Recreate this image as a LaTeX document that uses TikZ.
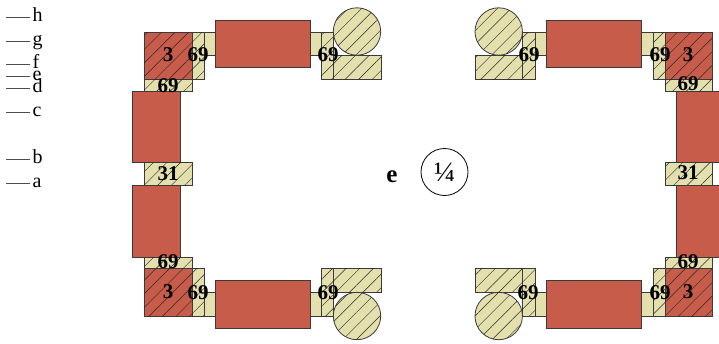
\documentclass[tikz,border=0pt]{standalone}
\usepackage{fontspec}
\setmainfont{Liberation Serif}
\usetikzlibrary{patterns.meta}
\definecolor{brick}{HTML}{C85C4B}
\definecolor{khaki}{HTML}{E3E0AE}
\definecolor{edge}{HTML}{3A3A3A}
\tikzset{
  x=1pt,y=-1pt,
  redbox/.style={draw=edge,line width=0.8pt,fill=brick},
  plainbox/.style={draw=edge,line width=0.8pt,fill=khaki},
  hatch/.style={postaction={pattern={Lines[angle=45,distance=9.6pt,line width=0.45pt]},pattern color=black!85}},
  hatchbox/.style={plainbox,hatch},
  hatchred/.style={redbox,hatch},
  num/.style={font=\bfseries\fontsize{21}{21}\selectfont,inner sep=0pt},
  keytext/.style={font=\fontsize{20}{20}\selectfont,inner sep=0pt,anchor=base west},
  keyline/.style={draw=black!70,line width=0.7pt},
}
\begin{document}
\begin{tikzpicture}
\useasboundingbox (0,0) rectangle (719,343);
% key
\foreach \n/\y in {h/17,g/41,f/64,e/76,d/88,c/112,b/159,a/183}{
  \coordinate (k\n) at (6,\y);
  \node[keytext] (t\n) at (32.5,\y+4) {\n};
  \draw[keyline] (k\n) -- (30,\y);
}
% left side
\draw[hatchred] (144,32) rectangle (192,79);
\draw[hatchbox] (192,32) rectangle (204,79);
\draw[plainbox] (204,32) rectangle (215,55);
\draw[redbox] (215,20) rectangle (310,67);
\draw[plainbox] (310,32) rectangle (321,55);
\draw[hatchbox] (321,32) rectangle (333,79);
\draw[hatchbox] (333,55) rectangle (381,79);
\draw[hatchbox] (357,31.5) circle (23.7);
\draw[hatchbox] (144,79) rectangle (192,91);
\draw[redbox] (132,91) rectangle (180,162);
\draw[hatchbox] (144,162) rectangle (192,185);
\draw[redbox] (132,185) rectangle (180,257);
\draw[hatchbox] (144,257) rectangle (192,268);
\draw[hatchred] (144,268) rectangle (192,316);
\draw[hatchbox] (192,268) rectangle (204,316);
\draw[plainbox] (204,292) rectangle (215,316);
\draw[redbox] (215,280) rectangle (310,328);
\draw[plainbox] (310,292) rectangle (321,316);
\draw[hatchbox] (321,268) rectangle (333,316);
\draw[hatchbox] (333,268) rectangle (381,292);
\draw[hatchbox] (357,316) circle (23.7);
% right side
\draw[hatchred] (665,32) rectangle (712,79);
\draw[hatchbox] (653,32) rectangle (665,79);
\draw[plainbox] (641,32) rectangle (653,55);
\draw[redbox] (546,20) rectangle (641,67);
\draw[plainbox] (535,32) rectangle (546,55);
\draw[hatchbox] (522,32) rectangle (535,79);
\draw[hatchbox] (475,55) rectangle (522,79);
\draw[hatchbox] (498.7,31.5) circle (23.7);
\draw[hatchbox] (665,79) rectangle (712,91);
\draw[redbox] (676,91) rectangle (724,162);
\draw[hatchbox] (665,162) rectangle (712,185);
\draw[redbox] (676,185) rectangle (724,257);
\draw[hatchbox] (665,257) rectangle (712,268);
\draw[hatchred] (665,268) rectangle (712,316);
\draw[hatchbox] (653,268) rectangle (665,316);
\draw[plainbox] (641,292) rectangle (653,316);
\draw[redbox] (546,280) rectangle (641,328);
\draw[plainbox] (535,292) rectangle (546,316);
\draw[hatchbox] (522,268) rectangle (535,316);
\draw[hatchbox] (475,268) rectangle (522,292);
\draw[hatchbox] (498.7,316) circle (23.7);
% numbers
\node[num] (n1) at (168,55) {3};
\node[num] (n2) at (198,55) {69};
\node[num] (n3) at (328,55) {69};
\node[num] (n4) at (168,86) {69};
\node[num] (n5) at (168,174) {31};
\node[num] (n6) at (168,262) {69};
\node[num] (n7) at (168,292) {3};
\node[num] (n8) at (198,293) {69};
\node[num] (n9) at (328,293) {69};
\node[num] (m1) at (688,55) {3};
\node[num] (m2) at (660,55) {69};
\node[num] (m3) at (529,55) {69};
\node[num] (m4) at (688,84) {69};
\node[num] (m5) at (688,173) {31};
\node[num] (m6) at (688,262) {69};
\node[num] (m7) at (688,292) {3};
\node[num] (m8) at (660,293) {69};
\node[num] (m9) at (528,293) {69};
% centre
\node[inner sep=0pt,anchor=base,font=\bfseries\fontsize{25}{25}\selectfont] (ctr) at (392,182) {e};
\node[draw=black,line width=0.8pt,circle,minimum size=47pt,inner sep=0pt,font=\fontsize{28}{28}\selectfont] (frac) at (444.5,172) {¼};
\end{tikzpicture}
\end{document}
